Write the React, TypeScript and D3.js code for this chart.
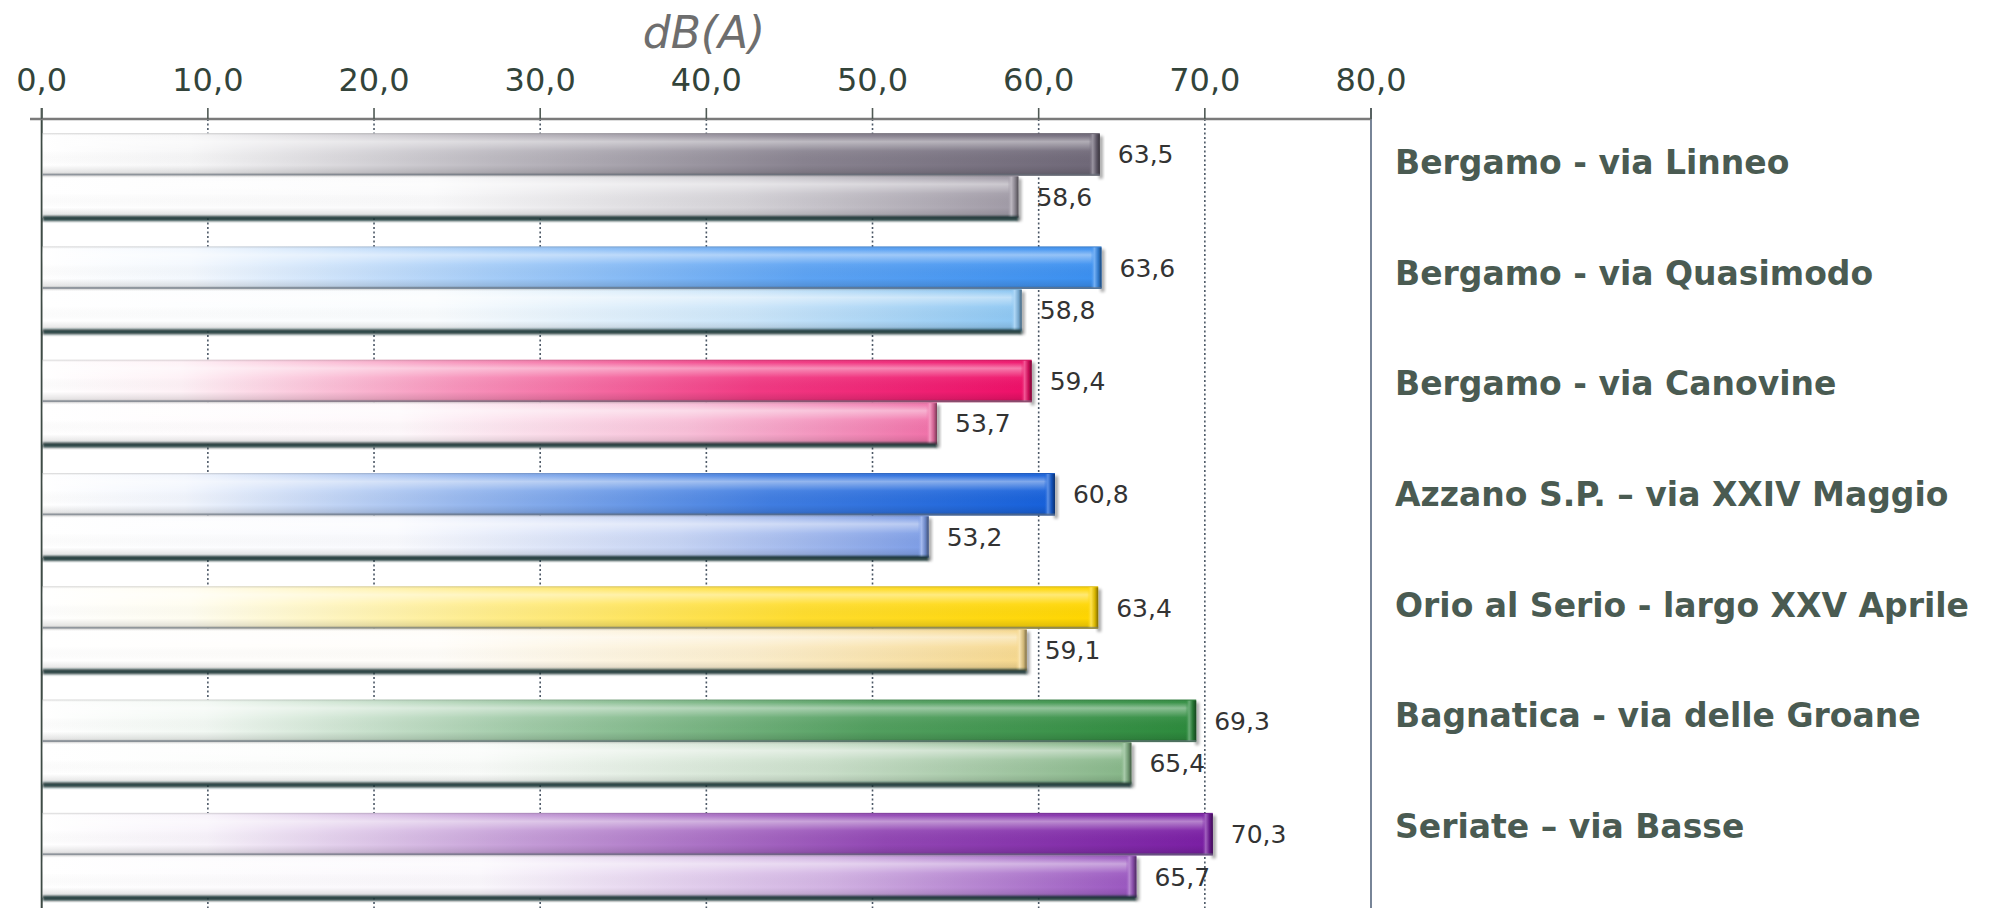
import React from 'react';
import * as d3 from 'd3';

const categories = [
  'Bergamo - via Linneo',
  'Bergamo - via Quasimodo',
  'Bergamo - via Canovine',
  'Azzano S.P. – via XXIV Maggio',
  'Orio al Serio - largo XXV Aprile',
  'Bagnatica - via delle Groane',
  'Seriate – via Basse',
];
const seriesA = [63.5, 63.6, 59.4, 60.8, 63.4, 69.3, 70.3];
const seriesB = [58.6, 58.8, 53.7, 53.2, 59.1, 65.4, 65.7];
const colorsA = ['#6f6878', '#3a8ff0', '#ee0f68', '#1660da', '#ffd600', '#2c8a3c', '#7a1ea4'];
const colorsB = ['#a09aa6', '#8cc6f2', '#f070a8', '#7d9de6', '#f6d88e', '#86b688', '#9a56c0'];
const xTicks = [0, 10, 20, 30, 40, 50, 60, 70, 80];
const axisTitle = 'dB(A)';

const fmt = (v: number) => d3.format('.1f')(v).replace('.', ',');

export default function App() {
  const W = 1996;
  const H = 908;
  const x = d3.scaleLinear().domain([0, 80]).range([41.7, 1371]);
  const y = d3
    .scaleBand<string>()
    .domain(categories)
    .range([119, 912])
    .paddingInner(0.25)
    .paddingOuter(0.125);
  const sub = d3.scaleBand<string>().domain(['A', 'B']).range([0, y.bandwidth()]);
  const ly = d3.scalePoint<string>().domain(categories).range([163, 827]);
  const axisY = 119;
  const white = '#ffffff';

  const bars: any[] = [];
  categories.forEach((c, i) => {
    (['A', 'B'] as const).forEach((s) => {
      const v = s === 'A' ? seriesA[i] : seriesB[i];
      const col = s === 'A' ? colorsA[i] : colorsB[i];
      bars.push({ c, i, s, v, col, y0: (y(c) as number) + (sub(s) as number), h: sub.bandwidth() });
    });
  });

  const mix = (col: string, t: number) => d3.interpolateRgb(white, col)(t);
  const dark = (col: string, t: number) => d3.interpolateRgb(col, '#000')(t);

  return (
    <svg
      width={W}
      height={H}
      viewBox={`0 0 ${W} ${H}`}
      style={{ position: 'absolute', left: 0, top: 0, background: '#fff' }}
    >
      <defs>
        <filter id="blur1" x="-5%" y="-200%" width="110%" height="500%">
          <feGaussianBlur stdDeviation="1.2" />
        </filter>
        <filter id="blur2" x="-50%" y="-20%" width="200%" height="140%">
          <feGaussianBlur stdDeviation="1.5" />
        </filter>
        <linearGradient id="gloss" x1="0" y1="0" x2="0" y2="1">
          <stop offset="0" stopColor="#000" stopOpacity="0.18" />
          <stop offset="0.06" stopColor="#fff" stopOpacity="0.05" />
          <stop offset="0.2" stopColor="#fff" stopOpacity="0.45" />
          <stop offset="0.42" stopColor="#fff" stopOpacity="0.06" />
          <stop offset="0.75" stopColor="#000" stopOpacity="0" />
          <stop offset="0.92" stopColor="#000" stopOpacity="0.1" />
          <stop offset="1" stopColor="#000" stopOpacity="0.28" />
        </linearGradient>
        {bars.map((b) => (
          <linearGradient key={`h${b.s}${b.i}`} id={`h${b.s}${b.i}`} x1="0" y1="0" x2="1" y2="0">
            {b.s === 'A' ? (
              <>
                <stop offset="0" stopColor={white} />
                <stop offset="0.14" stopColor={mix(b.col, 0.06)} />
                <stop offset="0.42" stopColor={mix(b.col, 0.45)} />
                <stop offset="0.72" stopColor={mix(b.col, 0.82)} />
                <stop offset="1" stopColor={b.col} />
              </>
            ) : (
              <>
                <stop offset="0" stopColor={white} />
                <stop offset="0.4" stopColor={mix(b.col, 0.05)} />
                <stop offset="0.72" stopColor={mix(b.col, 0.45)} />
                <stop offset="1" stopColor={b.col} />
              </>
            )}
          </linearGradient>
        ))}
        {bars.map((b) => (
          <linearGradient key={`c${b.s}${b.i}`} id={`c${b.s}${b.i}`} x1="0" y1="0" x2="1" y2="0">
            <stop offset="0" stopColor={b.col} stopOpacity="0" />
            <stop offset="0.35" stopColor={mix(b.col, 0.7)} />
            <stop offset="0.7" stopColor={dark(b.col, 0.15)} />
            <stop offset="1" stopColor={dark(b.col, 0.5)} />
          </linearGradient>
        ))}
      </defs>

      {/* title */}
      <text
        x={704}
        y={48}
        textAnchor="middle"
        fontFamily="'DejaVu Sans', Verdana, sans-serif"
        fontStyle="italic"
        fontSize={44}
        fill="#6e6e6e"
      >
        {axisTitle}
      </text>

      {/* tick labels */}
      {xTicks.map((t) => (
        <text
          key={`tl${t}`}
          x={x(t)}
          y={91}
          textAnchor="middle"
          fontFamily="'DejaVu Sans', Verdana, sans-serif"
          fontSize={32}
          fill="#33443a"
        >
          {fmt(t)}
        </text>
      ))}

      {/* gridlines */}
      {xTicks
        .filter((t) => t > 0 && t < 80)
        .map((t) => (
          <line
            key={`g${t}`}
            x1={x(t)}
            x2={x(t)}
            y1={axisY}
            y2={H}
            stroke="#4c5866"
            strokeWidth={1.6}
            strokeDasharray="2,2.5"
          />
        ))}
      {/* right border */}
      <line x1={x(80)} x2={x(80)} y1={108} y2={H} stroke="#56667e" strokeWidth={1.6} />
      {/* left axis */}
      <line x1={x(0)} x2={x(0)} y1={108} y2={H} stroke="#3d4a44" strokeWidth={2} />
      {/* top axis */}
      <line x1={30} x2={x(80)} y1={axisY} y2={axisY} stroke="#7a7a7a" strokeWidth={2.5} />
      {xTicks.map((t) => (
        <line key={`tk${t}`} x1={x(t)} x2={x(t)} y1={108} y2={axisY} stroke="#505a55" strokeWidth={1.6} />
      ))}

      {/* bars */}
      {bars.map((b) => {
        const x0 = x(0) + 1;
        const x1 = x(b.v) + 3;
        const w = x1 - x0;
        return (
          <g key={`b${b.s}${b.i}`}>
            <rect x={x1 - 1} y={b.y0 + 3} width={4} height={b.h} fill="#000" opacity={0.35} filter="url(#blur2)" />
            <rect x={x0} y={b.y0} width={w} height={b.h} fill={`url(#h${b.s}${b.i})`} />
            <rect x={x0} y={b.y0} width={w} height={b.h} fill="url(#gloss)" />
            <rect x={x1 - 11} y={b.y0 + 1} width={11} height={b.h - 2} fill={`url(#c${b.s}${b.i})`} />
            {b.s === 'A' ? (
              <rect x={x0} y={b.y0 + b.h - 2} width={w} height={2} fill="#6a7480" opacity={0.6} />
            ) : (
              <rect x={x0} y={b.y0 + b.h - 2} width={w} height={5} fill="#173131" opacity={0.9} filter="url(#blur1)" />
            )}
          </g>
        );
      })}

      {/* value labels */}
      {bars.map((b) => (
        <text
          key={`v${b.s}${b.i}`}
          x={x(b.v) + 21}
          y={b.y0 + b.h / 2 + 9}
          fontFamily="'DejaVu Sans', Verdana, sans-serif"
          fontSize={25}
          fill="#333333"
        >
          {fmt(b.v)}
        </text>
      ))}

      {/* category labels */}
      {categories.map((c) => (
        <text
          key={`cl${c}`}
          x={1395}
          y={(ly(c) as number) + 11}
          fontFamily="'DejaVu Sans', Verdana, sans-serif"
          fontWeight="bold"
          fontSize={33}
          fill="#4a5b52"
        >
          {c}
        </text>
      ))}
    </svg>
  );
}
